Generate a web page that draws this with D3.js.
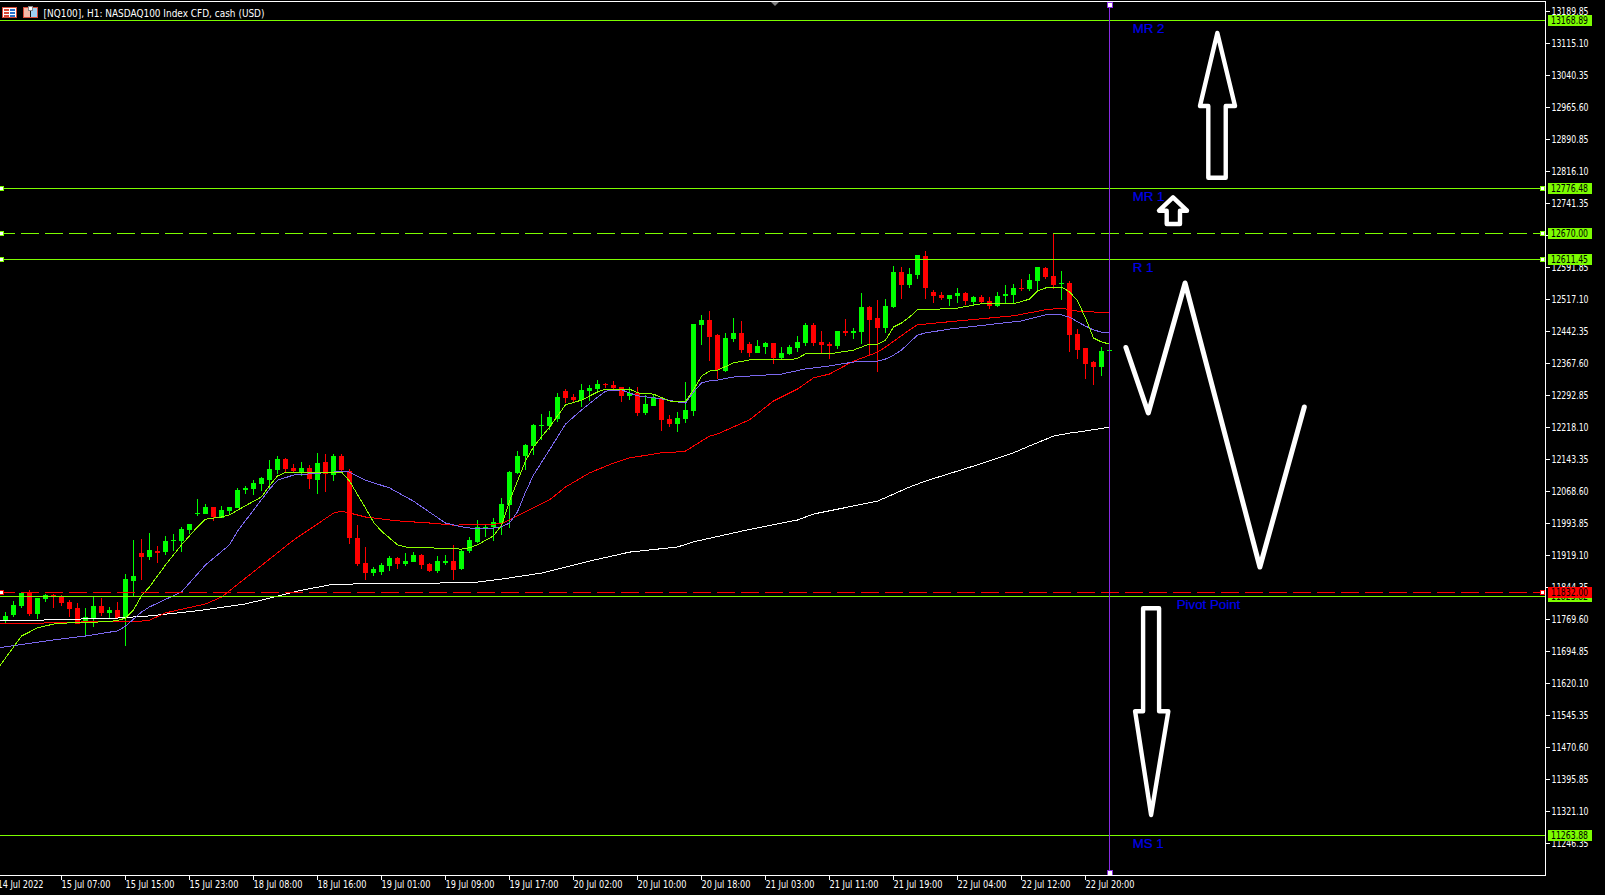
<!DOCTYPE html>
<html><head><meta charset="utf-8">
<script src="https://cdn.jsdelivr.net/npm/d3@7/dist/d3.min.js"></script>
<style>
html,body{margin:0;padding:0;background:#000;overflow:hidden}
svg{display:block}
text{font-family:"DejaVu Sans Condensed","DejaVu Sans",sans-serif;font-size:10.5px}
.crisp{shape-rendering:crispEdges}
</style></head><body><svg id="c" width="1605" height="895"></svg>
<script>
const title = "[NQ100], H1:  NASDAQ100 Index CFD, cash (USD)";
const opens = [
11769,11780,11801,11832,11782,11818,11827,11822,11810,11796,
11761,11773,11801,11785,11792,11775,11860,11925,11916,11930,
11927,11954,11953,11979,12016,12016,12032,12007,12023,12030,
12072,12074,12086,12095,12119,12145,12123,12114,12123,12095,
12138,12107,12152,12116,11960,11902,11878,11881,11895,11913,
11899,11904,11920,11899,11883,11902,11906,11888,11930,11951,
11983,11986,11995,12037,12112,12152,12175,12222,12222,12238,
12303,12289,12282,12303,12308,12320,12317,12313,12292,12299,
12252,12268,12287,12238,12226,12238,12257,12458,12469,12434,
12350,12425,12439,12413,12392,12406,12415,12380,12390,12404,
12415,12458,12418,12413,12408,12443,12439,12441,12500,12474,
12450,12500,12581,12551,12574,12619,12535,12528,12518,12525,
12532,12511,12523,12514,12502,12525,12528,12544,12542,12560,
12591,12572,12553,12556,12437,12404,12371,12359,12397];
const closes = [
11778,11804,11832,11782,11820,11826,11825,11808,11794,11759,
11775,11801,11785,11792,11773,11864,11871,11916,11932,11925,
11953,11956,11981,11993,12018,12032,12009,12025,12032,12072,
12077,12088,12100,12121,12145,12121,12116,12123,12098,12135,
12109,12152,12119,11960,11899,11878,11888,11897,11913,11899,
11906,11920,11897,11883,11906,11906,11885,11930,11955,11986,
11986,11997,12039,12114,12152,12177,12224,12224,12243,12289,
12287,12282,12306,12310,12320,12317,12310,12292,12299,12252,
12273,12289,12236,12226,12240,12259,12460,12469,12430,12352,
12427,12439,12399,12392,12408,12415,12380,12392,12406,12418,
12458,12415,12411,12408,12443,12439,12443,12500,12469,12450,
12502,12581,12551,12577,12621,12544,12525,12521,12528,12532,
12514,12523,12511,12502,12525,12530,12544,12542,12563,12593,
12570,12551,12556,12434,12399,12366,12359,12397,12400];
const highs = [
11786,11812,11835,11839,11820,11829,11829,11826,11814,11808,
11796,11824,11820,11799,11810,11876,11955,11958,11972,11941,
11965,11969,11986,11993,12051,12039,12032,12035,12032,12077,
12081,12095,12102,12142,12152,12147,12133,12138,12130,12159,
12156,12156,12156,12121,11990,11939,11892,11902,11918,11916,
11925,11927,11923,11902,11918,11920,11944,11932,11962,12002,
11993,12007,12053,12116,12163,12180,12226,12250,12257,12299,
12308,12296,12320,12317,12329,12322,12327,12313,12313,12313,
12294,12294,12289,12247,12254,12324,12460,12481,12490,12437,
12439,12474,12467,12418,12422,12418,12415,12406,12411,12432,
12462,12462,12443,12418,12443,12471,12450,12532,12502,12516,
12518,12595,12593,12591,12621,12630,12539,12535,12528,12544,
12535,12525,12528,12523,12535,12551,12553,12565,12577,12593,
12593,12672,12584,12560,12448,12404,12373,12406,12406];
const lows = [
11762,11776,11796,11778,11771,11810,11796,11801,11775,11759,
11733,11752,11778,11773,11773,11708,11824,11862,11909,11902,
11920,11930,11927,11969,12011,12016,12000,12007,12014,12030,
12063,12060,12070,12072,12109,12114,12114,12105,12074,12063,
12067,12093,12116,11946,11895,11862,11871,11874,11883,11888,
11895,11904,11888,11881,11878,11897,11862,11885,11925,11948,
11962,11953,11967,11983,12110,12119,12154,12189,12212,12231,
12275,12275,12266,12280,12301,12310,12308,12278,12282,12245,
12247,12268,12210,12219,12208,12229,12245,12411,12373,12331,
12348,12418,12392,12383,12392,12390,12366,12376,12387,12394,
12408,12408,12390,12378,12401,12432,12425,12413,12385,12348,
12439,12497,12518,12544,12565,12518,12509,12516,12502,12509,
12504,12502,12509,12495,12500,12507,12509,12537,12537,12539,
12565,12542,12516,12394,12378,12331,12317,12338,12380];

// moving averages: [bar, price] read at the bars where the slope changes
const maFast = [[-1,11654],[2,11731],[4,11750],[6,11759],[7,11761],[12,11764],[14,11767],[15,11773],[16,11792],[17,11825],[18,11846],[20,11897],[22,11944],[23,11965],[24,11986],[25,12004],[27,12009],[28,12014],[29,12025],[32,12056],[33,12082],[34,12105],[35,12113],[36,12114],[42,12114],[43,12093],[45,12030],[46,11997],[47,11976],[49,11944],[50,11939],[53,11937],[57,11934],[58,11937],[59,11944],[61,11965],[62,11990],[63,12046],[65,12140],[66,12173],[68,12219],[70,12271],[72,12282],[74,12301],[75,12308],[78,12308],[79,12299],[81,12296],[83,12280],[85,12278],[86,12306],[87,12338],[88,12350],[89,12352],[91,12369],[93,12376],[98,12376],[99,12380],[100,12390],[103,12390],[106,12399],[108,12413],[109,12413],[110,12422],[111,12453],[112,12462],[113,12476],[114,12493],[117,12495],[119,12497],[121,12504],[122,12507],[126,12507],[128,12518],[129,12537],[130,12544],[132,12546],[133,12535],[134,12514],[135,12474],[136,12427],[137,12418],[138,12413]];
const maMid = [[-1,11703],[6,11722],[10,11731],[14,11743],[15,11754],[17,11787],[18,11799],[22,11834],[25,11897],[28,11944],[29,11976],[33,12074],[34,12095],[36,12107],[41,12114],[42,12116],[43,12114],[45,12095],[48,12077],[51,12046],[55,11995],[57,11986],[59,11981],[61,11983],[62,11986],[63,11995],[64,12021],[65,12067],[66,12107],[68,12166],[70,12226],[72,12259],[74,12289],[75,12303],[77,12306],[79,12292],[82,12285],[84,12278],[85,12275],[86,12301],[87,12322],[88,12327],[89,12329],[91,12336],[97,12343],[100,12355],[103,12362],[106,12371],[109,12373],[110,12378],[111,12387],[112,12399],[114,12434],[115,12439],[118,12448],[127,12467],[128,12472],[130,12481],[132,12481],[133,12476],[134,12465],[135,12455],[136,12446],[137,12441],[138,12439]];
const maSlow = [[-1,11759],[4,11761],[10,11764],[16,11764],[18,11768],[20,11785],[25,11806],[27,11822],[31,11881],[36,11955],[41,12018],[42,12023],[45,12009],[49,12000],[53,11995],[56,11990],[62,11993],[65,12021],[68,12049],[70,12079],[73,12112],[76,12135],[78,12147],[82,12159],[84,12161],[85,12163],[88,12198],[89,12203],[93,12236],[96,12280],[99,12308],[101,12334],[103,12343],[106,12373],[109,12394],[110,12406],[113,12446],[114,12458],[119,12467],[126,12479],[130,12493],[132,12497],[134,12490],[138,12486]];
const maLong = [[-1,11766],[4,11768],[14,11773],[18,11778],[24,11790],[30,11806],[34,11824],[37,11838],[41,11852],[55,11855],[59,11857],[62,11864],[67,11878],[73,11906],[78,11927],[84,11939],[86,11951],[92,11976],[99,12002],[101,12016],[109,12046],[113,12079],[115,12093],[121,12128],[126,12159],[128,12175],[131,12198],[133,12205],[135,12210],[138,12219]];

const levelPrices = [13168.89,12776.48,12670.00,12611.45,11823.82,11832.00,11263.88];
const levelKinds  = ["solid","solid","dash","solid","solid","dash","solid"];
const levelColors = ["#7cfc00","#7cfc00","#7cfc00","#7cfc00","#7cfc00","#ff0000","#7cfc00"];
const levelMarked = [false,true,true,true,false,true,false];

const priceTicks = [13189.85,13115.10,13040.35,12965.60,12890.85,12816.10,12741.35,12666.60,12591.85,12517.10,12442.35,12367.60,12292.85,12218.10,12143.35,12068.60,11993.85,11919.10,11844.35,11769.60,11694.85,11620.10,11545.35,11470.60,11395.85,11321.10,11246.35];
const timeBars = [-1,7,15,23,31,39,47,55,63,71,79,87,95,103,111,119,127,135];
const timeLabels = ["14 Jul 2022","15 Jul 07:00","15 Jul 15:00","15 Jul 23:00","18 Jul 08:00","18 Jul 16:00","19 Jul 01:00","19 Jul 09:00","19 Jul 17:00","20 Jul 02:00","20 Jul 10:00","20 Jul 18:00","21 Jul 03:00","21 Jul 11:00","21 Jul 19:00","22 Jul 04:00","22 Jul 12:00","22 Jul 20:00"];
const markerBar = 138;

const noteTexts  = ["MR 2","MR 1","R 1","Pivot Point","MS 1"];
const noteBars   = [140.9,140.9,140.9,146.4,140.9];
const notePrices = [13139.6,12747.9,12581.3,11794,11236.5];

const bigUp   = [[151.48,13139.6],[149.31,12969.1],[150.35,12969.1],[150.35,12801.6],[152.53,12801.6],[152.53,12969.1],[153.69,12969.1]];
const smallUp = [[145.94,12755.8],[144.19,12724.5],[145.15,12724.5],[145.15,12693.4],[146.81,12693.4],[146.81,12724.5],[147.69,12724.5]];
const bigDown = [[142.2,11795.8],[144.2,11795.8],[144.2,11555.2],[145.35,11555.2],[143.2,11312.9],[141.2,11555.2],[142.2,11555.2]];
const zigzag  = [[140.05,12405],[142.85,12252],[147.45,12555.6],[156.8,11892.2],[162.35,12266]];

const svg = d3.select("#c");
const x = d3.scaleLinear().domain([0,138]).range([5.5,1109.5]);
const y = d3.scaleLinear().domain([13115.10,11246.35]).range([43.5,843.5]);
const plotR = 1545.5, plotT = 1.5, plotB = 875.5;
const row = p => Math.floor(y(p)-0.1);

svg.append("defs").append("clipPath").attr("id","plot").append("rect")
  .attr("x",0).attr("y",plotT).attr("width",plotR).attr("height",plotB-plotT);
const plot = svg.append("g").attr("clip-path","url(#plot)");

// axes first, so the level tags sit on top of the tick labels
const yAxis = d3.axisRight(y).tickValues(priceTicks).tickFormat(d3.format(".2f")).tickSize(4).tickPadding(2).offset(0);
const gy = svg.append("g").attr("transform",`translate(${plotR},0)`).call(yAxis);
const xAxis = d3.axisBottom(x).tickValues(timeBars).tickFormat((d,i)=>timeLabels[i]).tickSize(4).tickPadding(1).offset(0);
const gx = svg.append("g").attr("transform",`translate(0,${plotB})`).call(xAxis);
for (const g of [gy,gx]) {
  g.attr("font-family",null).attr("font-size",null);
  g.select(".domain").remove();
  g.selectAll("line").attr("stroke","#fff").attr("class","crisp");
  g.selectAll("text").attr("fill","#fff").attr("lengthAdjust","spacingAndGlyphs");
}
gy.selectAll("text").attr("textLength",37);
gx.selectAll("text").attr("text-anchor","start").attr("textLength",(d,i)=>i===0?46:49);
svg.append("path").attr("class","crisp").attr("fill","none").attr("stroke","#fff")
  .attr("d",`M0,${plotT}H${plotR}V${plotB}H0`);

// candles
const bars = d3.range(opens.length).map(i=>({i,o:opens[i],c:closes[i],h:highs[i],l:lows[i]}));
const col = d=>d.c>=d.o?"#00ff00":"#ff0000";
const cg = plot.append("g").attr("class","crisp");
cg.selectAll("line").data(bars).join("line")
  .attr("x1",d=>x(d.i)).attr("x2",d=>x(d.i)).attr("y1",d=>y(d.h)).attr("y2",d=>y(d.l)).attr("stroke",col);
cg.selectAll("rect").data(bars).join("rect")
  .attr("x",d=>x(d.i)-2.5).attr("width",5)
  .attr("y",d=>Math.round(y(Math.max(d.o,d.c))))
  .attr("height",d=>Math.max(1,Math.round(y(Math.min(d.o,d.c)))-Math.round(y(Math.max(d.o,d.c)))))
  .attr("fill",col);

// moving averages
const line = d3.line().x(d=>x(d[0])).y(d=>y(d[1]));
[[maLong,"#ffffff"],[maSlow,"#ff0000"],[maMid,"#7b68ee"],[maFast,"#8cff00"]].forEach(([s,c])=>{
  plot.append("path").attr("class","crisp").attr("d",line(s)).attr("fill","none").attr("stroke",c).attr("stroke-width",1);
});

// horizontal levels
levelPrices.forEach((p,k)=>{
  const yy = row(p)+0.5, c = levelColors[k];
  const l = plot.append("line").attr("class","crisp").attr("x1",0).attr("x2",plotR).attr("y1",yy).attr("y2",yy).attr("stroke",c);
  if (levelKinds[k]==="dash") l.attr("stroke-dasharray","18 6").attr("stroke-dashoffset",3);
});
// vertical marker
const vx = x(markerBar);
plot.append("line").attr("class","crisp").attr("x1",vx).attr("x2",vx).attr("y1",4).attr("y2",872).attr("stroke","#8a2be2");
for (const yy of [4.5,872.5]) plot.append("rect").attr("class","crisp").attr("x",vx-2.5).attr("y",yy-2.5).attr("width",5).attr("height",5)
  .attr("fill","#fff").attr("stroke","#8a2be2");
// level handles
levelPrices.forEach((p,k)=>{
  if(!levelMarked[k]) return;
  const yy = row(p)+0.5;
  for (const cx of [1.5,1542.5]) plot.append("rect").attr("class","crisp").attr("x",cx-2).attr("y",yy-2).attr("width",4).attr("height",4)
    .attr("fill","#fff").attr("stroke",levelColors[k]);
});

// hand-drawn arrows
const closed = d3.line().x(d=>x(d[0])).y(d=>y(d[1])).curve(d3.curveLinearClosed);
for (const s of [bigUp,smallUp,bigDown]) plot.append("path").attr("d",closed(s)).attr("fill","none").attr("stroke","#fff").attr("stroke-width",4.4).attr("stroke-linejoin","round");
plot.append("path").attr("d",line(zigzag)).attr("fill","none").attr("stroke","#fff").attr("stroke-width",5).attr("stroke-linejoin","round").attr("stroke-linecap","round");

// notes
noteTexts.forEach((t,k)=>plot.append("text").attr("x",x(noteBars[k])).attr("y",y(notePrices[k])).text(t)
  .attr("fill","#0000ee").attr("stroke","#0000ee").attr("stroke-width",0.2).style("font-family",'"Liberation Sans",sans-serif').style("font-size","13.3px"));

// level tags
levelPrices.forEach((p,k)=>{
  const t = row(p)-5;
  svg.append("rect").attr("class","crisp").attr("x",1548).attr("y",t).attr("width",44).attr("height",11).attr("fill",levelColors[k]);
  svg.append("text").attr("x",1551).attr("y",t+9).attr("fill","#000").attr("textLength",37).attr("lengthAdjust","spacingAndGlyphs").text(d3.format(".2f")(p));
});

// header
svg.append("text").attr("x",43.5).attr("y",16.5).attr("fill","#fff").attr("textLength",221).attr("lengthAdjust","spacingAndGlyphs").text(title);
const ic = svg.append("g").attr("class","crisp");
const rc=(g,a,b,w,h,f)=>g.append("rect").attr("x",a).attr("y",b).attr("width",w).attr("height",h).attr("fill",f);
rc(ic,2,7,15,11,"#d84a38"); rc(ic,3,8,13,9,"#fff");
[9,12,15].forEach(v=>{rc(ic,4,v,5,2,"#d84a38");rc(ic,10,v,5,2,"#2a6fc8");});
rc(ic,23,7,15,11,"#d84a38"); rc(ic,24,8,6,9,"#f4b8a8"); rc(ic,31,8,6,9,"#9fd0f0");
rc(ic,28,6,5,5,"#888"); rc(ic,29,7,3,3,"#fff"); rc(ic,30,11,1,6,"#111");
svg.append("path").attr("d",d3.line()([[771,2],[779,2],[775,6]])+"Z").attr("fill","#808080");
</script></body></html>
